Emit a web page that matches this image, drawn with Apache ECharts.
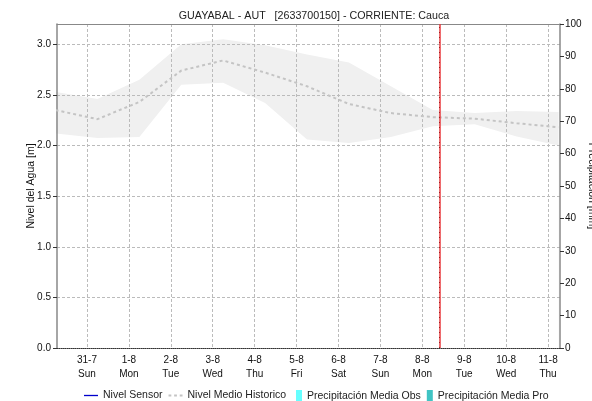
<!DOCTYPE html>
<html>
<head>
<meta charset="utf-8">
<script src="https://cdn.jsdelivr.net/npm/echarts@6/dist/echarts.min.js"></script>
<style>html,body{margin:0;padding:0;background:#fff;}#c{width:592px;height:401px;}</style>
</head>
<body>
<div id="c"></div>
<script>
// Days since 31-7 (00:00) of each historical sample
const sampleDays = [-0.75, 0.25, 1.25, 2.25, 3.25, 4.25, 5.25, 6.25, 7.25, 8.25, 9.25, 10.25, 11.25];
const histUpper  = [2.53, 2.46, 2.65, 3.00, 3.05, 2.99, 2.90, 2.82, 2.585, 2.35, 2.32, 2.34, 2.33];
const histLower  = [2.12, 2.075, 2.085, 2.60, 2.62, 2.42, 2.06, 2.025, 2.085, 2.19, 2.21, 2.09, 2.00];
const histMedian = [2.35, 2.26, 2.43, 2.74, 2.84, 2.72, 2.585, 2.41, 2.32, 2.28, 2.265, 2.22, 2.18];
const sensorLevel = [];
const precipObs = [];
const precipPro = [];
const dateLabels = ['31-7','1-8','2-8','3-8','4-8','5-8','6-8','7-8','8-8','9-8','10-8','11-8'];
const dayLabels  = ['Sun','Mon','Tue','Wed','Thu','Fri','Sat','Sun','Mon','Tue','Wed','Thu'];
const nowDay = 8.415;
const xMin = -0.715, xMax = 11.285;

const font = 'Liberation Sans, Arial, sans-serif';
const chart = echarts.init(document.getElementById('c'), null, {renderer: 'canvas'});
const tickDays = dateLabels.map((_, i) => i);
const pts = arr => arr.map((v, i) => [sampleDays[i], v]);

chart.setOption({
  animation: false,
  backgroundColor: '#fff',
  textStyle: {fontFamily: font},
  title: {
    text: 'GUAYABAL - AUT   [2633700150] - CORRIENTE: Cauca',
    left: 309, top: 6, textAlign: 'center',
    textStyle: {fontSize: 10.7, fontWeight: 'normal', color: '#222', fontFamily: font}
  },
  legend: [{
    left: 79, top: 385, itemGap: 6, itemWidth: 14, itemHeight: 12,
    textStyle: {fontSize: 10.5, color: '#222', fontFamily: font},
    data: [
      {name: 'Nivel Sensor', icon: 'path://M0,0h16v1.5h-16z'},
      {name: 'Nivel Medio Historico', icon: 'path://M0,0h3v2h-3zM6,0h3v2h-3zM12,0h3v2h-3z'}
    ]
  }, {
    left: 291, top: 385, itemGap: 6, itemWidth: 6, itemHeight: 12,
    textStyle: {fontSize: 10.5, color: '#222', fontFamily: font},
    data: [
      {name: 'Precipitación Media Obs', icon: 'rect'},
      {name: 'Precipitación Media Pro', icon: 'rect'}
    ]
  }],
  grid: {left: 57, right: 32, top: 24, bottom: 53, outerBoundsMode: 'none'},
  xAxis: [{
    type: 'value', min: xMin, max: xMax, z: 1.5,
    axisLine: {show: true, onZero: false, lineStyle: {color: '#333', width: 1, type: [1, 1]}},
    axisTick: {show: false, customValues: tickDays},
    splitLine: {show: true, lineStyle: {color: '#bbb', width: 1, type: [3, 2]}},
    axisLabel: {
      customValues: tickDays, margin: 5, fontSize: 10, color: '#111', lineHeight: 14,
      formatter: v => { const i = Math.round(v); return (dateLabels[i] || '') + '\n' + (dayLabels[i] || ''); }
    }
  }, {
    type: 'value', min: xMin, max: xMax, position: 'top', z: 1.5,
    axisLine: {show: true, onZero: false, lineStyle: {color: '#888', width: 1}},
    axisTick: {show: false}, axisLabel: {show: false}, splitLine: {show: false}
  }],
  yAxis: [{
    type: 'value', min: 0, max: 3.2, interval: 0.5, z: 1.5,
    name: 'Nivel del Agua [m]', nameLocation: 'middle', nameGap: 20, nameMoveOverlap: false,
    nameTextStyle: {fontSize: 10.5, color: '#111'},
    axisLine: {show: true, onZero: false, lineStyle: {color: '#888', width: 1.5}},
    axisTick: {show: true, length: 4, lineStyle: {color: '#333'}},
    axisLabel: {fontSize: 10, color: '#111', margin: 6, formatter: v => v.toFixed(1),
      showMaxLabel: false},
    splitLine: {show: true, lineStyle: {color: '#bbb', width: 1, type: [3, 2]}}
  }, {
    type: 'value', min: 0, max: 100, interval: 10, position: 'right', z: 1.5,
    name: 'Precipitación [mm]', nameLocation: 'middle', nameGap: 26, nameRotate: -90,
    nameMoveOverlap: false,
    nameTextStyle: {fontSize: 10.5, color: '#111'},
    axisLine: {show: true, onZero: false, lineStyle: {color: '#888', width: 1.5}},
    axisTick: {show: true, length: 4, lineStyle: {color: '#333'}},
    axisLabel: {fontSize: 10, color: '#111', margin: 5},
    splitLine: {show: false}
  }],
  series: [
    {
      name: 'bandUpper', type: 'line', z: 1, silent: true,
      data: pts(histUpper),
      symbol: 'none', lineStyle: {opacity: 0},
      areaStyle: {color: '#f0f0f0', opacity: 1, origin: 'start'}
    },
    {
      name: 'bandLower', type: 'line', z: 1.1, silent: true,
      data: pts(histLower),
      symbol: 'none', lineStyle: {opacity: 0},
      areaStyle: {color: '#ffffff', opacity: 1, origin: 'start'}
    },
    {
      name: 'Nivel Sensor', type: 'line', z: 3, data: sensorLevel,
      symbol: 'none', itemStyle: {color: '#0000cc'}, lineStyle: {color: '#0000cc', width: 1.5}
    },
    {
      name: 'Nivel Medio Historico', type: 'line', z: 2,
      data: pts(histMedian),
      symbol: 'none', itemStyle: {color: '#c4c4c4'},
      lineStyle: {color: '#c4c4c4', width: 2, type: [3, 3]},
      markLine: {
        silent: true, symbol: 'none', label: {show: false}, animation: false,
        data: [
          {xAxis: nowDay, lineStyle: {color: '#e8383d', width: 1.5, type: 'solid'}},
          {xAxis: nowDay, lineStyle: {color: '#a02020', width: 1, type: [1, 4]}}
        ]
      }
    },
    {
      name: 'Precipitación Media Obs', type: 'bar', yAxisIndex: 1, data: precipObs,
      itemStyle: {color: '#66ffff'}
    },
    {
      name: 'Precipitación Media Pro', type: 'bar', yAxisIndex: 1, data: precipPro,
      itemStyle: {color: '#40c4c4'}
    }
  ]
});
</script>
</body>
</html>
